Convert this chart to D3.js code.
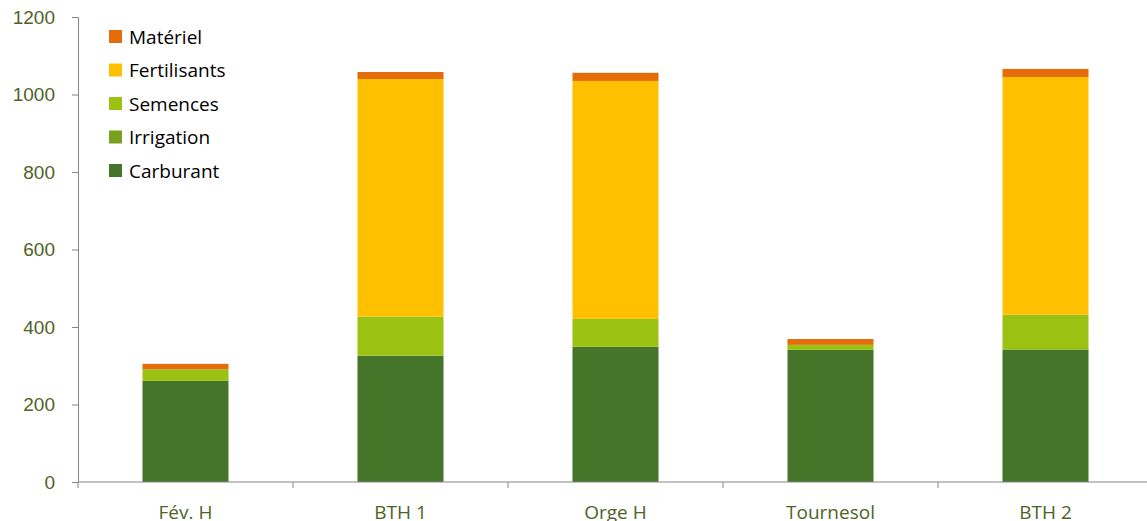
<!DOCTYPE html>
<html>
<head>
<meta charset="utf-8">
<script src="https://cdn.jsdelivr.net/npm/d3@7"></script>
<style>
  body { margin: 0; background: #fff; }
  svg { font-family: "Open Sans", Lato, sans-serif; }
  .axis path, .axis line { stroke: #868686; }
  .axis text { fill: #4f6228; font-size: 19px; }
  .legend text { fill: #000; font-size: 19px; }
</style>
</head>
<body>
<div id="chart"></div>
<script>
// Data
var categories = ["Fév. H", "BTH 1", "Orge H", "Tournesol", "BTH 2"];
var carburant   = [261, 326, 349, 341, 342];
var irrigation  = [0, 0, 0, 0, 0];
var semences    = [30, 101, 72, 13, 90];
var fertilisants = [0, 613, 614, 0, 613];
var materiel    = [14, 18, 21, 15, 21];
var yTicks = [0, 200, 400, 600, 800, 1000, 1200];

var seriesNames = ["Carburant", "Irrigation", "Semences", "Fertilisants", "Matériel"];
var seriesValues = [carburant, irrigation, semences, fertilisants, materiel];
var colors = ["#457528", "#77a11e", "#9bc113", "#ffc000", "#e46c0a"];

var margin = { top: 17, right: 0, bottom: 39, left: 78 },
    basewidth = 1147,
    baseheight = 521,
    width = basewidth - margin.left - margin.right,
    height = baseheight - margin.top - margin.bottom;

// build rows for the stack
var rows = categories.map(function (c, i) {
    var r = { cat: c };
    seriesNames.forEach(function (s, j) { r[s] = seriesValues[j][i]; });
    return r;
});
var stacked = d3.stack().keys(seriesNames)(rows);

var xScale = d3.scaleBand().domain(categories).range([0, 1075]).paddingInner(0.6).paddingOuter(0.3);
var yScale = d3.scaleLinear().domain([0, 1200]).range([height, 0]);

var svg = d3.select("#chart").append("svg")
    .attr("width", basewidth)
    .attr("height", baseheight)
    .append("g")
    .attr("transform", "translate(" + margin.left + "," + margin.top + ")");

// bars
svg.selectAll(".serie")
    .data(stacked)
    .enter().append("g")
    .attr("class", "serie")
    .attr("fill", function (d, i) { return colors[i]; })
    .selectAll("rect")
    .data(function (d) { return d; })
    .enter().append("rect")
    .attr("x", function (d) { return xScale(d.data.cat); })
    .attr("width", xScale.bandwidth())
    .attr("y", function (d) { return yScale(d[1]); })
    .attr("height", function (d) { return yScale(d[0]) - yScale(d[1]); });

// y axis
var yaxis_class = svg.append("g")
    .attr("class", "axis")
    .call(d3.axisLeft(yScale).tickValues(yTicks).tickSize(6).tickPadding(17).tickFormat(d3.format("d")));

// x axis, ticks between categories
var xaxis_class = svg.append("g")
    .attr("class", "axis")
    .attr("transform", "translate(0," + height + ")");
xaxis_class.append("line")
    .attr("x1", 0).attr("x2", width)
    .attr("stroke", "#868686");
xaxis_class.selectAll(".sep")
    .data(categories)
    .enter().append("line")
    .attr("class", "sep")
    .attr("x1", function (d) { return xScale(d) - xScale.bandwidth() * 0.75; })
    .attr("x2", function (d) { return xScale(d) - xScale.bandwidth() * 0.75; })
    .attr("y1", 0).attr("y2", 6)
    .attr("stroke", "#868686");
xaxis_class.selectAll(".lbl")
    .data(categories)
    .enter().append("text")
    .attr("class", "lbl")
    .attr("x", function (d) { return xScale(d) + xScale.bandwidth() / 2; })
    .attr("y", 37)
    .attr("text-anchor", "middle")
    .text(function (d) { return d; });

// legend (top to bottom: reverse of stack order)
var legend = svg.append("g")
    .attr("class", "legend")
    .attr("transform", "translate(31,13)");
var legendItems = legend.selectAll("g")
    .data(seriesNames.slice().reverse())
    .enter().append("g")
    .attr("transform", function (d, i) { return "translate(0," + (i * 33.5) + ")"; });
legendItems.append("rect")
    .attr("width", 13).attr("height", 13)
    .attr("fill", function (d) { return colors[seriesNames.indexOf(d)]; });
legendItems.append("text")
    .attr("x", 20)
    .attr("y", 7)
    .attr("dy", "0.35em")
    .text(function (d) { return d; });
</script>
</body>
</html>
